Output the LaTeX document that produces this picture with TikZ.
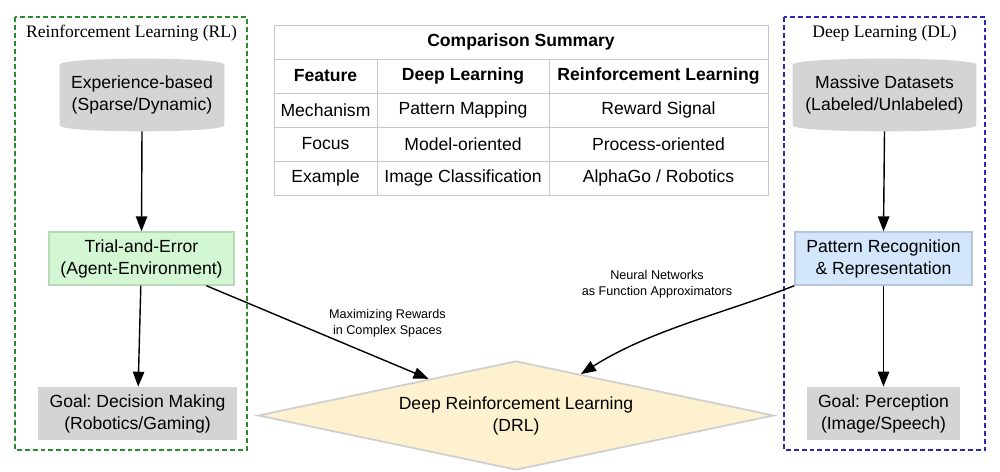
\documentclass[tikz,border=0pt]{standalone}
\usepackage{fontspec}
\setmainfont{Liberation Sans}
\newfontfamily\seriffont{Liberation Serif}
\usetikzlibrary{arrows.meta,shapes.geometric,calc}
\pgfdeclarelayer{background}
\pgfsetlayers{background,main}
\frenchspacing
\definecolor{cylgray}{HTML}{D4D4D4}
\definecolor{goalgray}{HTML}{D4D4D4}
\definecolor{trialgreen}{HTML}{D3F7D3}
\definecolor{trialborder}{HTML}{B8D8B8}
\definecolor{patblue}{HTML}{D3E6FB}
\definecolor{patborder}{HTML}{B3C6DA}
\definecolor{drlfill}{HTML}{FDF1CF}
\definecolor{drlborder}{HTML}{CFCFCF}
\definecolor{rlgreen}{HTML}{2E8B2E}
\definecolor{dlblue}{HTML}{2A2AAA}
\definecolor{tabline}{HTML}{C8C8C8}
\begin{document}
\frenchspacing
\begin{tikzpicture}[x=0.02cm,y=-0.02cm,
  every node/.style={font=\frenchspacing\fontsize{10}{12.5}\selectfont, align=center, inner sep=0pt},
  arr/.style={-{Triangle[length=8.5pt,width=6.5pt]}, line width=0.8pt, black},
  frame/.style={dash pattern=on 2.8pt off 1.7pt, line width=0.6pt},
  holder/.style={rectangle, minimum height=1.44cm},
  procbox/.style={rectangle, minimum height=1.06cm, line width=0.8pt},
  goalbox/.style={rectangle, minimum height=1.06cm, fill=goalgray},
  title/.style={font=\seriffont\fontsize{10}{12}\selectfont},
  elabel/.style={font=\fontsize{7.2}{9.4}\selectfont},
  cell/.style={rectangle, draw=tabline, line width=0.5pt, minimum height=0.68cm},
  head/.style={font=\bfseries\fontsize{10}{12}\selectfont}
]
\useasboundingbox (0,0) rectangle (1000,472);

% frames
\draw[frame, rlgreen] (15,17) rectangle (247,450);
\draw[frame, dlblue] (784,17) rectangle (985,450);
\node[title] (rltitle) at (131.5,33) {Reinforcement Learning (RL)};
\node[title] (dltitle) at (884.5,33) {Deep Learning (DL)};

% left column
\node[holder, minimum width=3.28cm] (exp) at (142,95) {Experience-based\\(Sparse/Dynamic)};
\node[procbox, minimum width=3.7cm, fill=trialgreen, draw=trialborder] (trial) at (141.5,258.5) {Trial-and-Error\\(Agent-Environment)};
\node[goalbox, minimum width=3.98cm] (goalrl) at (137.5,413.5) {Goal: Decision Making\\(Robotics/Gaming)};

% right column
\node[holder, minimum width=3.66cm] (data) at (884.5,95) {Massive Datasets\\(Labeled/Unlabeled)};
\node[procbox, minimum width=3.54cm, fill=patblue, draw=patborder] (pattern) at (883.5,258.5) {Pattern Recognition\\\& Representation};
\node[goalbox, minimum width=3.06cm] (goaldl) at (883.5,413.5) {Goal: Perception\\(Image/Speech)};

% cylinders
\begin{pgfonlayer}{background}
\foreach \n in {exp,data}{
\fill[cylgray] ([yshift=-0.12cm]\n.north west) .. controls ([yshift=0.04cm]\n.north west) and ([yshift=0.04cm]\n.north east) .. ([yshift=-0.12cm]\n.north east) -- ([yshift=0.12cm]\n.south east) .. controls ([yshift=-0.04cm]\n.south east) and ([yshift=-0.04cm]\n.south west) .. ([yshift=0.12cm]\n.south west) -- cycle;
}
\end{pgfonlayer}

% DRL diamond
\node[diamond, aspect=4.75, minimum width=10.32cm, minimum height=2.18cm, fill=drlfill, draw=drlborder, line width=1pt, font=\fontsize{10}{12.5}\selectfont] (drl) at (516,415.5) {Deep Reinforcement Learning\\(DRL)};

% table
\node[cell, minimum width=9.88cm, head] (th) at (521,42) {Comparison Summary};
\node[cell, minimum width=2.06cm, head] (h1) at (325.5,76) {Feature};
\node[cell, minimum width=3.44cm, head] (h2) at (463,76) {Deep Learning};
\node[cell, minimum width=4.38cm, head] (h3) at (658.5,76) {Reinforcement Learning};
\node[cell, minimum width=2.06cm] (a1) at (325.5,110) {Mechanism};
\node[cell, minimum width=3.44cm] (a2) at (463,110) {Pattern Mapping};
\node[cell, minimum width=4.38cm] (a3) at (658.5,110) {Reward Signal};
\node[cell, minimum width=2.06cm] (b1) at (325.5,144) {Focus};
\node[cell, minimum width=3.44cm] (b2) at (463,144) {Model-oriented};
\node[cell, minimum width=4.38cm] (b3) at (658.5,144) {Process-oriented};
\node[cell, minimum width=2.06cm] (c1) at (325.5,178) {Example};
\node[cell, minimum width=3.44cm] (c2) at (463,178) {Image Classification};
\node[cell, minimum width=4.38cm] (c3) at (658.5,178) {AlphaGo / Robotics};

% arrows
\draw[arr] (exp.south) -- (trial.north);
\draw[arr] (trial) -- (goalrl);
\draw[arr] (data.south) -- (pattern.north);
\draw[arr] (pattern) -- (goaldl);
\draw[arr] (trial) -- (drl);
\draw[arr] (pattern.south west) .. controls (728,312) and (650,330) .. (drl);

% edge labels
\node[elabel] (lbl1) at (387.5,323) {Maximizing Rewards\\in Complex Spaces};
\node[elabel] (lbl2) at (657,284) {Neural Networks\\as Function Approximators};
\end{tikzpicture}
\end{document}
